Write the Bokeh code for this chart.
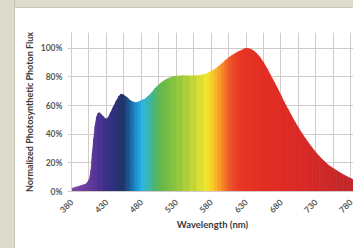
import math
from bokeh.plotting import figure
from bokeh.models import FixedTicker, PrintfTickFormatter
from bokeh.embed import file_html
from bokeh.resources import INLINE

# ---- data ----
wavelength = [380, 385, 390, 395, 400, 403, 406, 408, 410, 412, 414, 416, 418, 420,
              422, 425, 428, 430, 433, 436, 440, 444, 448, 451, 454, 457, 460, 464,
              468, 472, 476, 480, 485, 490, 495, 500, 505, 510, 515, 520, 525, 530,
              540, 550, 560, 570, 575, 580, 585, 590, 595, 600, 605, 610, 615, 620,
              625, 628, 631, 634, 637, 640, 645, 650, 655, 660, 665, 670, 675, 680,
              685, 690, 695, 700, 705, 710, 715, 720, 725, 730, 735, 740, 745, 750,
              755, 760, 765, 770, 775, 780, 785]
flux = [2, 2.8, 3.5, 4.3, 5, 6.5, 9, 15, 27, 37, 46, 52, 54.5, 55,
        54, 52.5, 51, 50.5, 52, 55, 59, 63, 66.5, 68, 67.5, 66.5, 65.5, 63.5,
        62.5, 62, 62.5, 63.5, 64.5, 66.5, 69, 72, 74.5, 76.5, 78, 79.2, 80, 80.5,
        80.8, 80.7, 80.8, 81.5, 82.5, 83.8, 85.2, 87, 89, 91.3, 93.3, 95, 96.5, 97.8,
        98.9, 99.6, 100, 99.7, 99.2, 98.4, 96.5, 93.6, 90, 85.8, 81.3, 76.6, 72, 67,
        62, 57.5, 53, 48.5, 44.5, 40.5, 37, 33.5, 30.3, 27.3, 24.5, 22, 19.7, 17.7,
        16, 14.5, 13, 11.6, 10.3, 9, 8]

x_tick_values = [380, 430, 480, 530, 580, 630, 680, 730, 780]
y_tick_values = [0, 20, 40, 60, 80, 100]
y_title = "Normalized Photosynthetic Photon Flux"
x_title = "Wavelength (nm)"

# colour stops of the rainbow fill (style)
stop_nm = [380, 400, 420, 440, 455, 465, 475, 482, 490, 500, 510, 530, 555, 575,
           585, 595, 605, 615, 630, 700, 785]
stop_col = ["#7e4aa6", "#6b3d9c", "#4a3192", "#2f2f7e", "#1e3468", "#1662a2",
            "#1f9bd6", "#2cb4e4", "#37b5b6", "#4cb56c", "#66b946", "#8cc43f",
            "#c4d637", "#f3e62a", "#f9bf2a", "#f59124", "#f0602a", "#ea3f24",
            "#e63223", "#dc2a24", "#c0272b"]


def hex2rgb(h):
    h = h.lstrip("#")
    return [int(h[i:i + 2], 16) for i in (0, 2, 4)]


def color_at(nm):
    for i in range(len(stop_nm) - 1):
        a, b = stop_nm[i], stop_nm[i + 1]
        if a <= nm <= b:
            t = (nm - a) / (b - a)
            c0, c1 = hex2rgb(stop_col[i]), hex2rgb(stop_col[i + 1])
            c = [round(c0[k] + (c1[k] - c0[k]) * t) for k in range(3)]
            return "#%02x%02x%02x" % tuple(c)
    return stop_col[-1]


xs, ys, cols = [], [], []
for i in range(len(wavelength) - 1):
    w0, w1 = wavelength[i], wavelength[i + 1]
    v0, v1 = flux[i], flux[i + 1]
    xs.append([w0, w1, w1, w0])
    ys.append([0, 0, v1, v0])
    cols.append(color_at((w0 + w1) / 2))

FONT = "Lato"
GRID = "#d3cbcb"

p = figure(width=353, height=248, x_range=(380, 784), y_range=(0, 111),
           output_backend="svg", toolbar_location=None,
           min_border_left=71, min_border_right=0, min_border_top=32,
           min_border_bottom=57)
p.background_fill_color = "white"
p.border_fill_alpha = 0
p.outline_line_color = None
p.styles = {
    "background": ("linear-gradient(to right, #dddbcc 0px, #dddbcc 14px, #c9c6b6 14px, "
                   "#c9c6b6 15px, rgba(255,255,255,0) 15px), "
                   "linear-gradient(to bottom, #dddbcc 0px, #dddbcc 7px, #c9c6b6 7px, "
                   "#c9c6b6 8px, #ffffff 8px)")
}

p.patches(xs, ys, fill_color=cols, line_color=cols, line_width=0.8)

# grid
p.xgrid.ticker = FixedTicker(ticks=list(range(380, 800, 25)))
p.ygrid.ticker = FixedTicker(ticks=y_tick_values)
p.xgrid.grid_line_color = GRID
p.ygrid.grid_line_color = GRID
p.xgrid.grid_line_width = 1
p.ygrid.grid_line_width = 1

# x axis
p.xaxis.ticker = FixedTicker(ticks=x_tick_values)
p.xaxis.major_label_orientation = math.pi / 4
p.xaxis.axis_label = x_title
p.xaxis.axis_line_color = GRID
p.xaxis.major_tick_line_color = None
p.xaxis.minor_tick_line_color = None
p.xaxis.major_label_standoff = 3
p.xaxis.axis_label_standoff = 0

# y axis
p.yaxis.ticker = FixedTicker(ticks=y_tick_values)
p.yaxis.formatter = PrintfTickFormatter(format="%d%%")
p.yaxis.axis_label = y_title
p.yaxis.axis_line_color = GRID
p.yaxis.major_tick_line_color = GRID
p.yaxis.major_tick_out = 4
p.yaxis.major_tick_in = 0
p.yaxis.minor_tick_line_color = None
p.yaxis.major_label_standoff = 5
p.yaxis.axis_label_standoff = 3

for ax in (p.xaxis, p.yaxis):
    ax.major_label_text_font = FONT
    ax.major_label_text_font_style = "bold"
    ax.major_label_text_font_size = "8.5px"
    ax.major_label_text_color = "#595959"
    ax.axis_label_text_font = FONT
    ax.axis_label_text_font_style = "bold"
    ax.axis_label_text_color = "#3a3a3a"

p.xaxis.axis_label_text_font_size = "9.5px"
p.yaxis.axis_label_text_font_size = "9px"

open("out.html", "w").write(file_html(p, INLINE))
